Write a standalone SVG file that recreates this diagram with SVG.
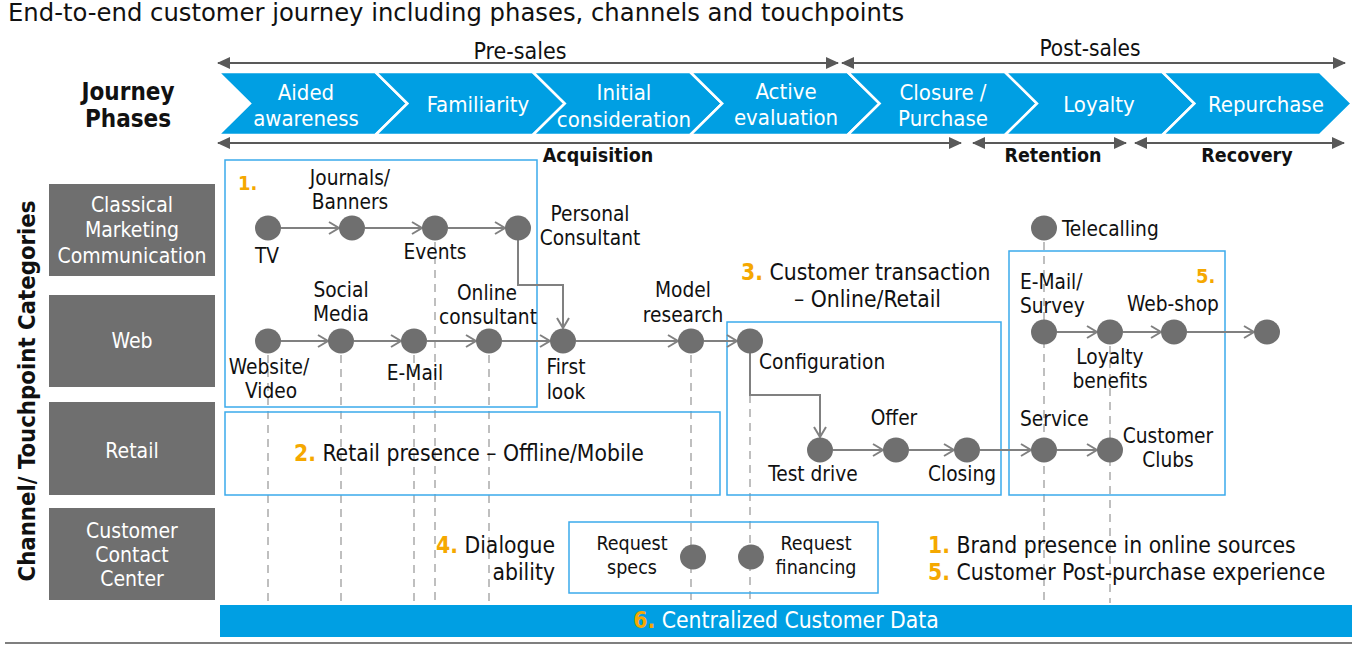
<svg xmlns="http://www.w3.org/2000/svg" width="1365" height="648" viewBox="0 0 1365 648">
<style>
text{font-family:"DejaVu Sans Condensed","DejaVu Sans",sans-serif;fill:#111}
.t{font-size:20.7px}
.c{text-anchor:middle}
.e{text-anchor:end}
.w{fill:#fff}
.b{font-weight:bold}
.o{fill:#F5A800;font-weight:bold}
.ph{font-size:22px;fill:#fff;text-anchor:middle}
.cat{font-size:21px;fill:#fff;text-anchor:middle}
.bt{font-size:22.7px}
.chev{fill:#009FE3;stroke:#fff;stroke-width:2.5}
.catbox{fill:#6F6F6F}
.box{fill:none;stroke:#3BAAEB;stroke-width:1.5}
.conn{fill:none;stroke:#808080;stroke-width:2;marker-end:url(#open)}
.dash{stroke:#BFBFBF;stroke-width:2;stroke-dasharray:8 6}
.span{stroke:#595959;stroke-width:2;marker-start:url(#tri);marker-end:url(#tri)}
.node{fill:#6F6F6F}
</style>
<defs>
<marker id="open" markerUnits="userSpaceOnUse" markerWidth="14" markerHeight="16" refX="11" refY="7" orient="auto">
<path d="M1,1 L11,7 L1,13" fill="none" stroke="#808080" stroke-width="2"/>
</marker>
<marker id="tri" markerUnits="userSpaceOnUse" markerWidth="14" markerHeight="14" refX="12" refY="6" orient="auto-start-reverse">
<path d="M0,0 L13,6 L0,12 Z" fill="#595959"/>
</marker>
</defs>
<rect width="1365" height="648" fill="#fff"/>
<text x="8" y="21" style="font-family:'DejaVu Sans',sans-serif;font-size:24.3px">End-to-end customer journey including phases, channels and touchpoints</text>

<g id="header">
<text x="128" y="100" class="c b" style="font-size:24px">Journey</text>
<text x="128" y="127" class="c b" style="font-size:24px">Phases</text>
<text x="520" y="59" class="c" style="font-size:23px">Pre-sales</text>
<text x="1090" y="56" class="c" style="font-size:22.5px">Post-sales</text>
<text x="598" y="162" class="c b" style="font-size:19.5px">Acquisition</text>
<text x="1053" y="162" class="c b" style="font-size:19.5px">Retention</text>
<text x="1247" y="162" class="c b" style="font-size:19.5px">Recovery</text>
</g>

<g id="phases">
<g id="ph1"><polygon class="chev" points="218,72 375.4,72 407.4,103.5 375.4,135 218,135 250,103.5"/><text x="306" y="100" class="ph">Aided</text><text x="306" y="126" class="ph">awareness</text></g>
<g id="ph2"><polygon class="chev" points="375.4,72 532.8,72 564.8,103.5 532.8,135 375.4,135 407.4,103.5"/><text x="478" y="112" class="ph">Familiarity</text></g>
<g id="ph3"><polygon class="chev" points="532.8,72 690.2,72 722.2,103.5 690.2,135 532.8,135 564.8,103.5"/><text x="624" y="100" class="ph">Initial</text><text x="624" y="127" class="ph">consideration</text></g>
<g id="ph4"><polygon class="chev" points="690.2,72 847.6,72 879.6,103.5 847.6,135 690.2,135 722.2,103.5"/><text x="786" y="99" class="ph">Active</text><text x="786" y="125" class="ph">evaluation</text></g>
<g id="ph5"><polygon class="chev" points="847.6,72 1005,72 1037,103.5 1005,135 847.6,135 879.6,103.5"/><text x="943" y="100" class="ph">Closure /</text><text x="943" y="126" class="ph">Purchase</text></g>
<g id="ph6"><polygon class="chev" points="1005,72 1162.4,72 1194.4,103.5 1162.4,135 1005,135 1037,103.5"/><text x="1099" y="112" class="ph">Loyalty</text></g>
<g id="ph7"><polygon class="chev" points="1162.4,72 1319.8,72 1351.8,103.5 1319.8,135 1162.4,135 1194.4,103.5"/><text x="1266" y="112" class="ph">Repurchase</text></g>
</g>

<g id="spans">
<line class="span" x1="218" y1="63" x2="838" y2="63"/>
<line class="span" x1="842" y1="63" x2="1345" y2="63"/>
<line class="span" x1="218" y1="143" x2="961" y2="143"/>
<line class="span" x1="973" y1="143" x2="1126" y2="143"/>
<line class="span" x1="1135" y1="143" x2="1344" y2="143"/>
</g>

<text transform="translate(35,391) rotate(-90)" class="c b" style="font-size:23.7px">Channel/ Touchpoint Categories</text>

<g id="categories">
<g id="cat-classical"><rect class="catbox" x="49" y="184" width="166" height="92"/><text x="132" y="212" class="cat">Classical</text><text x="132" y="237" class="cat">Marketing</text><text x="132" y="263" class="cat">Communication</text></g>
<g id="cat-web"><rect class="catbox" x="49" y="295" width="166" height="92"/><text x="132" y="348" class="cat">Web</text></g>
<g id="cat-retail"><rect class="catbox" x="49" y="402" width="166" height="93"/><text x="132" y="458" class="cat">Retail</text></g>
<g id="cat-ccc"><rect class="catbox" x="49" y="508" width="166" height="92"/><text x="132" y="538" class="cat">Customer</text><text x="132" y="562" class="cat">Contact</text><text x="132" y="586" class="cat">Center</text></g>
</g>

<g id="guides">
<line class="dash" x1="268" y1="341" x2="268" y2="603"/>
<line class="dash" x1="341" y1="341" x2="341" y2="603"/>
<line class="dash" x1="414" y1="341" x2="414" y2="603"/>
<line class="dash" x1="435" y1="228" x2="435" y2="605"/>
<line class="dash" x1="489" y1="341" x2="489" y2="605"/>
<line class="dash" x1="691" y1="341" x2="691" y2="600"/>
<line class="dash" x1="750" y1="395" x2="750" y2="600"/>
<line class="dash" x1="1044" y1="228" x2="1044" y2="603"/>
<line class="dash" x1="1110" y1="332" x2="1110" y2="603"/>
</g>

<g id="groups">
<g id="box1"><rect class="box" x="225" y="160" width="312" height="247"/><text x="238" y="190" class="o" style="font-size:20px">1.</text></g>
<g id="box2"><rect class="box" x="225" y="412" width="495" height="83"/><text x="294" y="461" class="bt"><tspan class="o">2.</tspan> Retail presence – Offline/Mobile</text></g>
<g id="box3"><rect class="box" x="727" y="322" width="274" height="173"/><text x="741" y="280" class="bt"><tspan class="o">3.</tspan> Customer transaction</text><text x="941" y="307" class="bt e">– Online/Retail</text></g>
<g id="box5"><rect class="box" x="1009" y="251" width="216" height="244"/><text x="1196" y="283" class="o" style="font-size:20px">5.</text></g>
<g id="box4"><rect class="box" x="569" y="522" width="309" height="71"/></g>
</g>

<g id="connectors">
<path class="conn" d="M281,228 H339"/>
<path class="conn" d="M365,228 H422"/>
<path class="conn" d="M448,228 H505"/>
<path class="conn" d="M518,240 V285 H563 V328"/>
<path class="conn" d="M281,341 H328"/>
<path class="conn" d="M354,341 H401"/>
<path class="conn" d="M427,341 H476"/>
<path class="conn" d="M502,341 H550"/>
<path class="conn" d="M576,341 H678"/>
<path class="conn" d="M704,341 H737"/>
<path class="conn" d="M750,353 V395 H820 V437"/>
<path class="conn" d="M833,450 H883"/>
<path class="conn" d="M909,450 H954"/>
<path class="conn" d="M980,450 H1031"/>
<path class="conn" d="M1057,450 H1097"/>
<path class="conn" d="M1057,332 H1097"/>
<path class="conn" d="M1123,332 H1161"/>
<path class="conn" d="M1187,332 H1254"/>
</g>

<g id="n-tv"><ellipse class="node" cx="268" cy="228" rx="13" ry="12.5"/><text x="267" y="263" class="t c">TV</text></g>
<g id="n-journals"><ellipse class="node" cx="352" cy="228" rx="13" ry="12.5"/><text x="350" y="185" class="t c">Journals/</text><text x="350" y="209" class="t c">Banners</text></g>
<g id="n-events"><ellipse class="node" cx="435" cy="228" rx="13" ry="12.5"/><text x="435" y="259" class="t c">Events</text></g>
<g id="n-personal"><ellipse class="node" cx="518" cy="228" rx="13" ry="12.5"/><text x="590" y="221" class="t c">Personal</text><text x="590" y="245" class="t c">Consultant</text></g>
<g id="n-website"><ellipse class="node" cx="268" cy="341" rx="13" ry="12.5"/><text x="269" y="374" class="t c">Website/</text><text x="271" y="398" class="t c">Video</text></g>
<g id="n-social"><ellipse class="node" cx="341" cy="341" rx="13" ry="12.5"/><text x="341" y="297" class="t c">Social</text><text x="341" y="321" class="t c">Media</text></g>
<g id="n-email"><ellipse class="node" cx="414" cy="341" rx="13" ry="12.5"/><text x="415" y="380" class="t c">E-Mail</text></g>
<g id="n-online"><ellipse class="node" cx="489" cy="341" rx="13" ry="12.5"/><text x="487" y="300" class="t c">Online</text><text x="488" y="324" class="t c">consultant</text></g>
<g id="n-firstlook"><ellipse class="node" cx="563" cy="341" rx="13" ry="12.5"/><text x="566" y="374" class="t c">First</text><text x="566" y="399" class="t c">look</text></g>
<g id="n-model"><ellipse class="node" cx="691" cy="341" rx="13" ry="12.5"/><text x="683" y="297" class="t c">Model</text><text x="683" y="322" class="t c">research</text></g>
<g id="n-config"><ellipse class="node" cx="750" cy="341" rx="13" ry="12.5"/><text x="759" y="369" class="t">Configuration</text></g>
<g id="n-testdrive"><ellipse class="node" cx="820" cy="450" rx="13" ry="12.5"/><text x="813" y="481" class="t c">Test drive</text></g>
<g id="n-offer"><ellipse class="node" cx="896" cy="450" rx="13" ry="12.5"/><text x="894" y="425" class="t c">Offer</text></g>
<g id="n-closing"><ellipse class="node" cx="967" cy="450" rx="13" ry="12.5"/><text x="962" y="481" class="t c">Closing</text></g>
<g id="n-service"><ellipse class="node" cx="1044" cy="450" rx="13" ry="12.5"/><text x="1020" y="426" class="t">Service</text></g>
<g id="n-clubs"><ellipse class="node" cx="1110" cy="450" rx="13" ry="12.5"/><text x="1168" y="443" class="t c">Customer</text><text x="1168" y="467" class="t c">Clubs</text></g>
<g id="n-telecalling"><ellipse class="node" cx="1044" cy="228" rx="13" ry="12.5"/><text x="1062" y="236" class="t">Telecalling</text></g>
<g id="n-survey"><ellipse class="node" cx="1044" cy="332" rx="13" ry="12.5"/><text x="1020" y="289" class="t">E-Mail/</text><text x="1020" y="313" class="t">Survey</text></g>
<g id="n-loyalty"><ellipse class="node" cx="1110" cy="332" rx="13" ry="12.5"/><text x="1110" y="364" class="t c">Loyalty</text><text x="1110" y="388" class="t c">benefits</text></g>
<g id="n-webshop"><ellipse class="node" cx="1174" cy="332" rx="13" ry="12.5"/><text x="1173" y="311" class="t c">Web-shop</text></g>
<g id="n-end"><ellipse class="node" cx="1267" cy="332" rx="13" ry="12.5"/></g>
<g id="n-reqspecs"><ellipse class="node" cx="693" cy="557" rx="13" ry="12.5"/><text x="632" y="550" class="c" style="font-size:19.5px">Request</text><text x="632" y="574" class="c" style="font-size:19.5px">specs</text></g>
<g id="n-reqfin"><ellipse class="node" cx="751" cy="557" rx="13" ry="12.5"/><text x="816" y="550" class="c" style="font-size:19.5px">Request</text><text x="816" y="574" class="c" style="font-size:19.5px">financing</text></g>

<g id="notes">
<text x="555" y="553" class="e bt"><tspan class="o">4.</tspan> Dialogue</text>
<text x="555" y="580" class="e bt">ability</text>
<text x="928" y="553" class="bt"><tspan class="o">1.</tspan> Brand presence in online sources</text>
<text x="928" y="580" class="bt"><tspan class="o">5.</tspan> Customer Post-purchase experience</text>
</g>

<g id="data-bar">
<rect x="220" y="605" width="1132" height="32" fill="#009FE3"/>
<text x="786" y="628" class="c bt w"><tspan class="o">6.</tspan> Centralized Customer Data</text>
</g>
<line x1="5" y1="643" x2="1352" y2="643" stroke="#555" stroke-width="1.5"/>
</svg>
